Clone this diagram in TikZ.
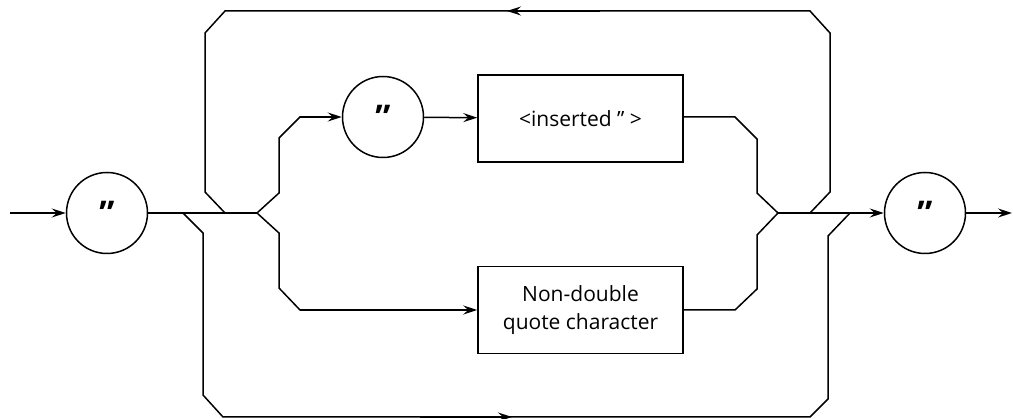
\documentclass[tikz,border=0pt]{standalone}
\usepackage{fontspec}
\setmainfont{Open Sans}
\usepackage{tikz}
\usetikzlibrary{arrows.meta}
\tikzset{
  ln/.style={line width=1.5pt, draw=black},
  arr/.style={ln, -{Stealth[length=14pt,width=9pt,inset=5pt]}},
  term/.style={circle, ln, minimum size=81pt, inner sep=0pt, font=\fontsize{34}{34}\selectfont\bfseries},
  sym/.style={rectangle, ln, minimum width=205pt, minimum height=87pt, align=center, font=\fontsize{21}{28}\selectfont},
}

\begin{document}
\begin{tikzpicture}[x=1pt, y=-1pt]
  \useasboundingbox (0,0) rectangle (1013,419);

  \coordinate (in) at (10,213);     % entry
  \coordinate (out) at (1012,213);  % exit

  \node[term] (q1) at (107,213) {\raisebox{-8pt}{”}};
  \node[term] (q2) at (383,117) {\raisebox{-8pt}{”}};
  \node[term] (q3) at (925,213) {\raisebox{-8pt}{”}};
  \node[sym] (ins) at (580.5,118.5) {<inserted ” >};
  \node[sym] (nd) at (580.5,310) {Non-double\\quote character};

  \coordinate (byA) at (183,213);   % bypass leaves
  \coordinate (lpB) at (225,213);   % loop comes back
  \coordinate (sp) at (257,213);    % inner split
  \coordinate (jn) at (778,213);    % inner join
  \coordinate (lpA) at (810,213);   % loop leaves
  \coordinate (byB) at (850,213);   % bypass comes back

  % main line
  \draw[arr] (in) -- (q1);
  \draw[ln] (q1) -- (sp);
  \draw[arr] (jn) -- (q3);
  \draw[arr] (q3) -- (out);

  % repeat loop (top)
  \draw[ln] (lpA) -- (830,192) -- (830,33) -- (810,11) -- (507,11);
  \draw[arr] (600,11) -- (507,11);
  \draw[ln] (507,11) -- (225,11) -- (205,33) -- (205,192) -- (lpB);

  % bypass (bottom)
  \draw[ln] (byA) -- (203,233) -- (203,395) -- (223,417) -- (512,417);
  \draw[arr] (420,417) -- (512,417);
  \draw[ln] (512,417) -- (810,417) -- (828,399) -- (828,236) -- (byB);

  % upper branch
  \draw[ln] (sp) -- (279,193) -- (279,138) -- (300,117) -- (320,117);
  \draw[arr] (300,117) -- (q2);
  \draw[arr] (q2) -- (ins);
  \draw[ln] (ins.east |- 0,117) -- (735,117) -- (757,139) -- (757,193) -- (jn);

  % lower branch
  \draw[ln] (sp) -- (279,233) -- (279,288) -- (300,310) -- (320,310);
  \draw[arr] (300,310) -- (nd);
  \draw[ln] (nd) -- (735,310) -- (757,289) -- (757,235) -- (jn);
\end{tikzpicture}
\end{document}
